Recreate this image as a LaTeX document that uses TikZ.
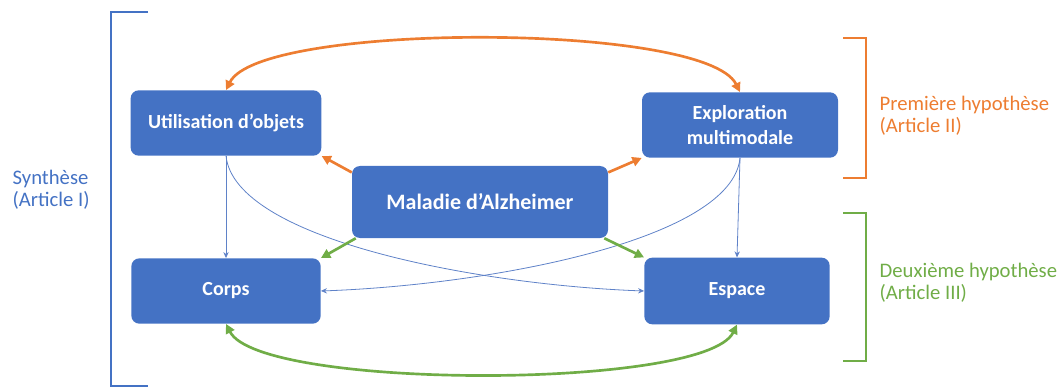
\documentclass[tikz,border=0pt]{standalone}
\usepackage{fontspec}
\setmainfont{Carlito}
\usetikzlibrary{arrows.meta}
\definecolor{boxblue}{HTML}{4472C4}
\definecolor{thinblue}{HTML}{5F82C8}
\definecolor{hypone}{HTML}{ED7D31}
\definecolor{hyptwo}{HTML}{70AD47}
\newcommand{\boxfont}{\bfseries\fontsize{15}{19}\selectfont}
\newcommand{\bigboxfont}{\bfseries\fontsize{16.5}{21}\selectfont}

\begin{document}
\begin{tikzpicture}[x=0.75pt, y=-0.75pt,
    concept/.style={fill=boxblue, rounded corners=6pt, text=white, align=center,
        inner sep=0pt, font=\boxfont},
    link/.style={-{Stealth[length=4.5pt, width=4pt]}, draw=thinblue, line width=0.6pt},
    bold link/.style={-{Triangle[length=7pt, width=7pt]}, line width=2pt},
    loop link/.style={{Triangle[length=7pt, width=7pt]}-{Triangle[length=7pt, width=7pt]}, line width=2pt},
    brace/.style={line width=1.5pt},
    side/.style={anchor=west, align=left, font=\fontsize{15.5}{16.5}\selectfont}]
    \useasboundingbox (0,0) rectangle (1063,392);

    \path (226, 123) node[concept, minimum width=143pt, minimum height=49pt] (util)   {Utilisation d'objets};
    \path (740, 125) node[concept, minimum width=147pt, minimum height=49pt] (explo)  {Exploration\\multimodale};
    \path (480, 202) node[concept, minimum width=192pt, minimum height=54pt, font=\bigboxfont] (mal) {Maladie d'Alzheimer};
    \path (226, 291) node[concept, minimum width=142pt, minimum height=49pt] (corps)  {Corps};
    \path (737, 291) node[concept, minimum width=139pt, minimum height=50pt] (espace) {Espace};

    \draw[link] (util.south) -- (corps.north);
    \draw[link] (explo.south) -- (espace.north);
    \draw[link] (util.south) .. controls (235, 240) and (480, 285) .. (espace.west);
    \draw[link] (explo.south) .. controls (732, 240) and (490, 285) .. (corps.east);

    \draw[bold link, hypone] ([yshift=-5pt]mal.north west) -- (util.south east);
    \draw[bold link, hypone] ([yshift=-5pt]mal.north east) -- (explo.south west);
    \draw[bold link, hyptwo] ([xshift=3pt]mal.south west) -- (corps.north east);
    \draw[bold link, hyptwo] ([xshift=-3pt]mal.south east) -- (espace.north west);

    \draw[loop link, hypone] (util.north) .. controls (260, 22) and (705, 22) .. (explo.north);
    \draw[loop link, hyptwo] (corps.south) .. controls (260, 390) and (705, 390) .. (espace.south);

    % brackets
    \draw[brace, boxblue] (148, 12) -- (111, 12) -- (111, 386) -- (148, 386);
    \draw[brace, hypone] (843, 38) -- (866, 38) -- (866, 178) -- (843, 178);
    \draw[brace, hyptwo] (843, 213) -- (866, 213) -- (866, 361) -- (843, 361);

    \path (8, 190)   node[side, text=boxblue] (synth) {Synthèse\\(Article I)};
    \path (875, 116) node[side, text=hypone]  (hypa)  {Première hypothèse\\(Article II)};
    \path (875, 283) node[side, text=hyptwo]  (hypb)  {Deuxième hypothèse\\(Article III)};
\end{tikzpicture}
\end{document}
